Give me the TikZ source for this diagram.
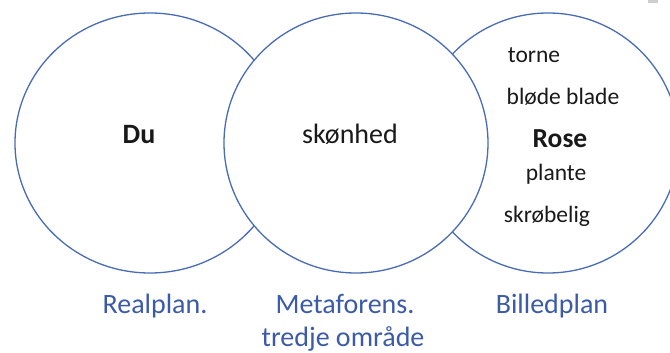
\documentclass[tikz,border=0pt]{standalone}
\usepackage{fontspec}
\setmainfont{Carlito}
\usetikzlibrary{shapes.geometric}
\definecolor{ringblue}{RGB}{72,108,182}
\definecolor{labelblue}{RGB}{59,91,169}
\definecolor{inktext}{RGB}{25,25,25}
\definecolor{markgray}{RGB}{205,205,205}
\begin{document}
\begin{tikzpicture}[x=1pt,y=-1pt,
  ring/.style={draw=ringblue, fill=white, line width=1.3pt, ellipse, inner sep=0pt},
  smallword/.style={anchor=base, inner sep=0pt, text=inktext, font=\fontsize{23.5}{28}\selectfont},
  bigword/.style={anchor=base, inner sep=0pt, text=inktext, font=\fontsize{28}{34}\selectfont},
  planlabel/.style={anchor=base, inner sep=0pt, text=labelblue, font=\fontsize{28}{34}\selectfont}
]
\useasboundingbox (0,0) rectangle (670,353);
\fill[white] (0,0) rectangle (670,353);
% the three rings; the middle one lies on top and hides the others' inner arcs
\node[ring, minimum width=270pt, minimum height=260pt] (real) at (150,143) {};
\node[ring, minimum width=262pt, minimum height=260pt] (bill) at (548,143) {};
\node[ring, minimum width=264pt, minimum height=260pt] (meta) at (356,143) {};
% small grey mark at the top right corner
\fill[markgray] (648,0) rectangle (658,3);
% texts in the rings
\node[bigword, font=\fontsize{28}{34}\selectfont\bfseries] (du) at (139,143) {Du};
\node[bigword] (skon) at (350,143) {skønhed};
\node[smallword] (torne) at (534,63) {torne};
\node[smallword] (blode) at (563,105) {bløde blade};
\node[bigword, font=\fontsize{27.5}{33}\selectfont\bfseries] (rose) at (560,147) {Rose};
\node[smallword] (plante) at (556,180) {plante};
\node[smallword] (skrob) at (547,222) {skrøbelig};
% labels below
\node[planlabel] (lreal) at (155,313) {Realplan.};
\node[planlabel] (lmeta) at (345,313) {Metaforens.};
\node[planlabel] (ltred) at (343,346) {tredje område};
\node[planlabel] (lbill) at (552,313) {Billedplan};
\end{tikzpicture}
\end{document}
